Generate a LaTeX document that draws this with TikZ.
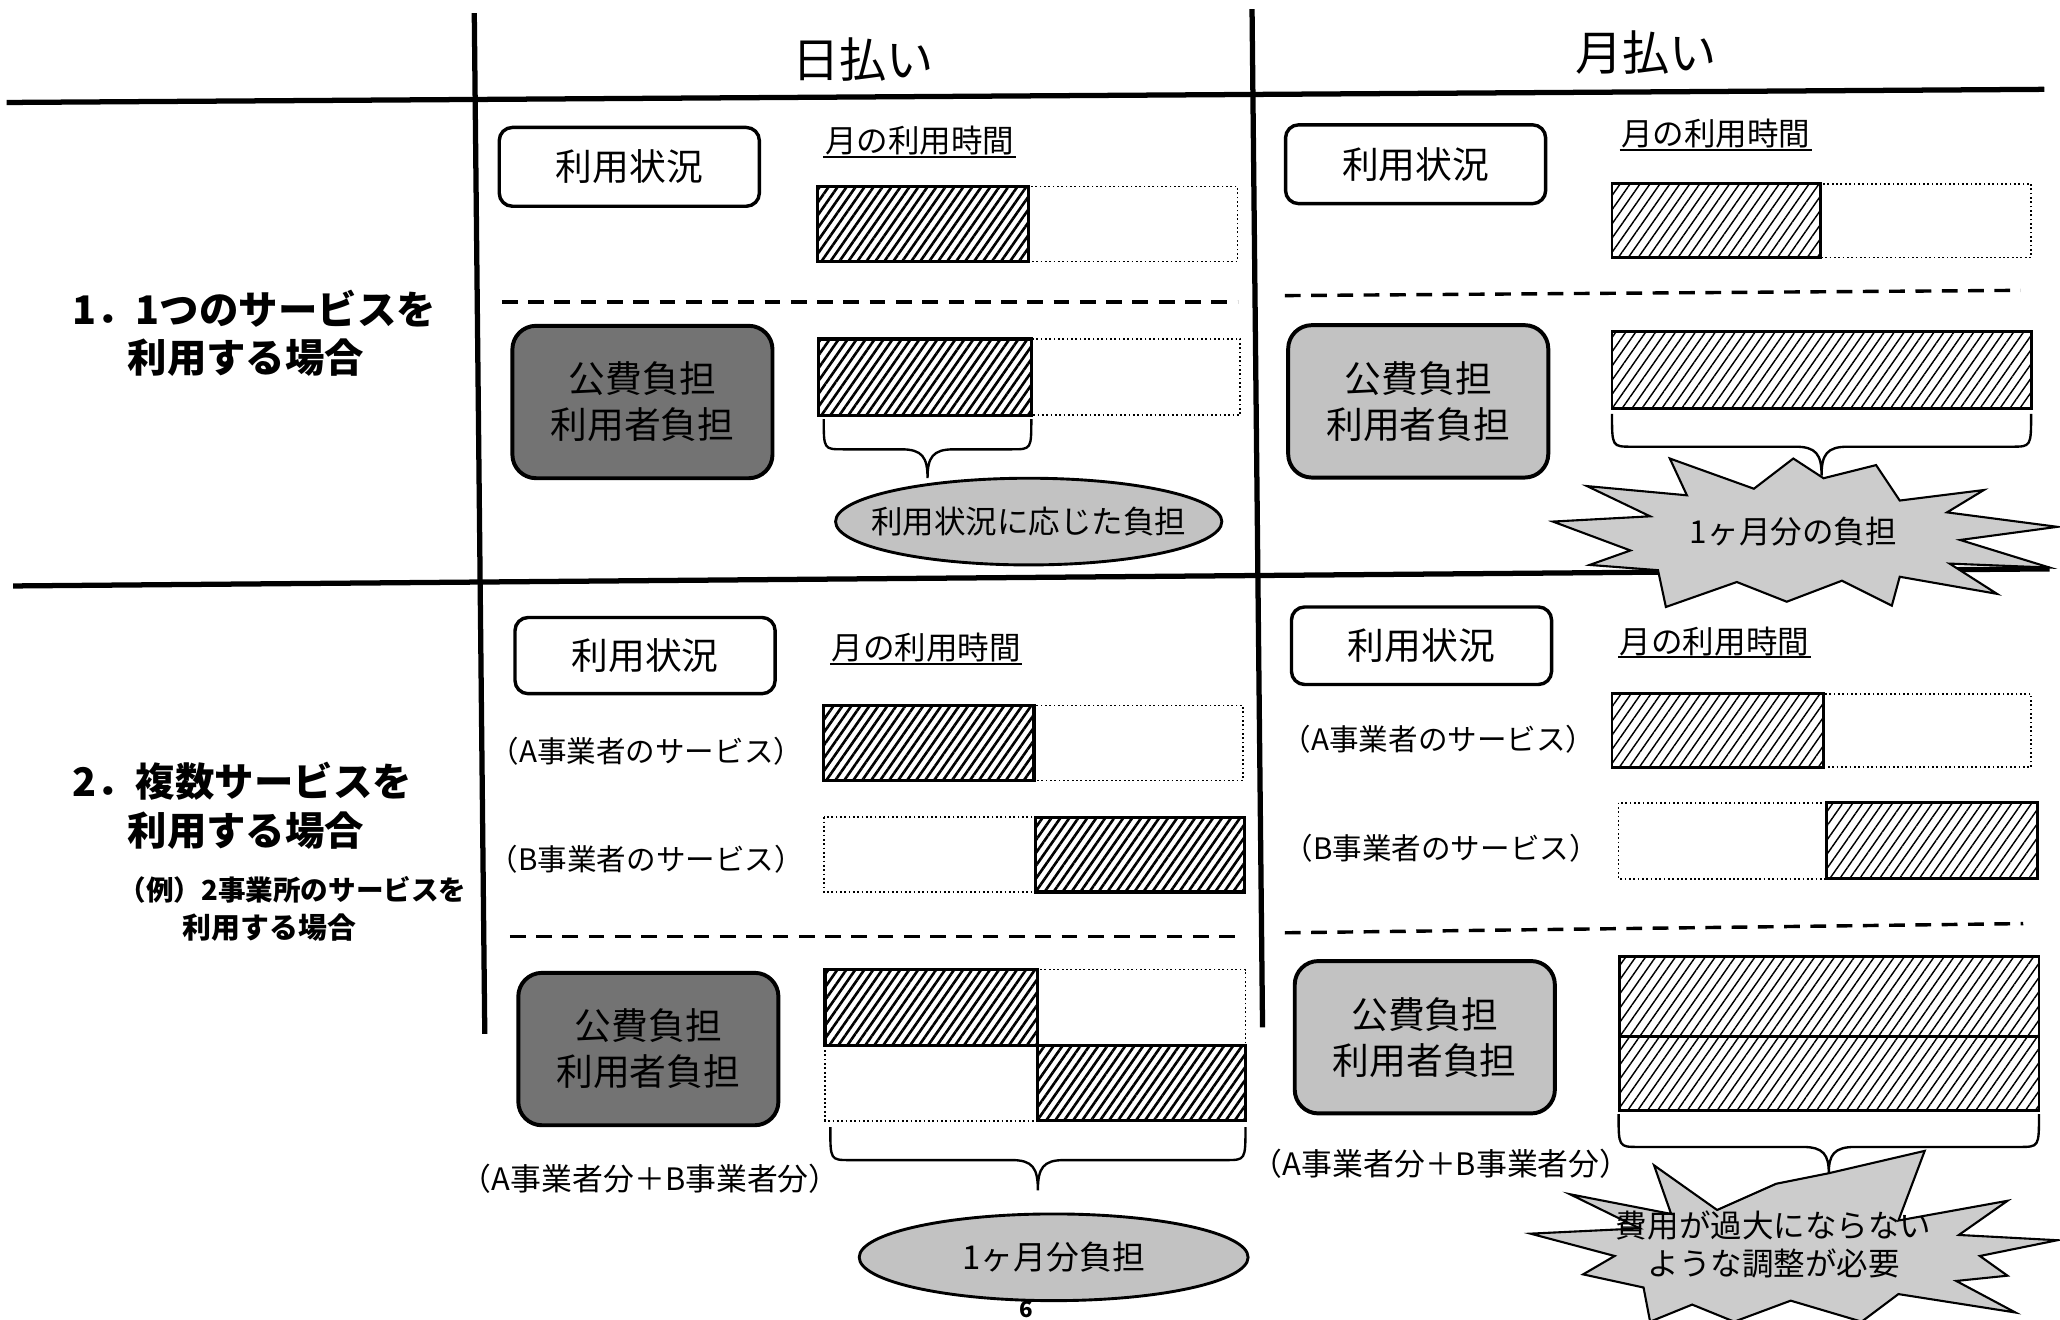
\documentclass[tikz,border=0pt]{standalone}
\usepackage{fontspec}
\setmainfont{Noto Sans CJK JP}
\usetikzlibrary{patterns.meta,shapes.geometric,calc}
\newcommand\fsz[1]{\fontsize{#1}{#1}\selectfont}
\newcommand\mybrace[5]{%
  \pgfmathsetmacro\bxm{(#1+#2)/2}%
  \draw[bracestyle] (#1,#3) .. controls (#1,#4) and (#1,#4) .. (#1+15,#4) -- (\bxm-20,#4)
    .. controls (\bxm-4,#4) and (\bxm,#4+6) .. (\bxm,#5)
    .. controls (\bxm,#4+6) and (\bxm+4,#4) .. (\bxm+20,#4) -- (#2-15,#4)
    .. controls (#2,#4) and (#2,#4) .. (#2,#3);}
\tikzset{
  gridline/.style={line width=4pt},
  sepline/.style={dash pattern=on 12pt off 8pt, line width=2.6pt},
  statbox/.style={draw, line width=2.6pt, rounded corners=10pt, fill=white,
    minimum width=198pt, minimum height=60pt, inner sep=0pt, font=\fsz{28}},
  burbox/.style={draw, line width=3pt, rounded corners=18pt, align=center,
    minimum width=198pt, minimum height=116pt, inner sep=0pt, font=\fontsize{28}{35}\selectfont},
  burdark/.style={burbox, fill=black!55},
  burlight/.style={burbox, fill=black!24},
  hatchA/.style={draw, line width=2.4pt, pattern={Lines[angle=55,distance=5.6pt,line width=2pt]}},
  hatchB/.style={draw, line width=2.2pt, pattern={Lines[angle=55,distance=6.2pt,line width=1.1pt]}},
  emptybar/.style={draw, dotted, line width=1.3pt},
  monthlbl/.style={font=\fsz{24}, inner sep=1pt},
  svclbl/.style={font=\fsz{22.5}, inner sep=0pt},
  sumlbl/.style={font=\fsz{23.5}, inner sep=0pt},
  header/.style={font=\fsz{36}, inner sep=0pt},
  rowlbl/.style={font=\bfseries\fsz{30}, inner sep=0pt, anchor=west},
  bracestyle/.style={line width=1.8pt},
  ovalfill/.style={draw, line width=2.2pt, fill=black!24},
  burst/.style={draw, line width=1.6pt, fill=black!20, line join=miter},
}
\begin{document}
\begin{tikzpicture}[x=1pt,y=-1pt]
\useasboundingbox (0,0) rectangle (1568,1004);

% ---- grid ----
\draw[gridline] (5,78) -- (1556,68);
\draw[gridline] (10,446) -- (1560,433);
\draw[gridline] (361,10) -- (369,787);
\draw[gridline] (953,7) -- (961,782);

% ---- headers ----
\node[header] (h1) at (657,45) {日払い};
\node[header] (h2) at (1253,40) {月払い};

% ---- row labels ----
\node[rowlbl] (r1a) at (55,235) {1．1つのサービスを};
\node[rowlbl] (r1b) at (97,272) {利用する場合};
\node[rowlbl] (r2a) at (55,595) {2．複数サービスを};
\node[rowlbl] (r2b) at (97,632) {利用する場合};
\node[font=\bfseries\fsz{21}, inner sep=0pt, anchor=west] (r2c) at (90,677) {（例）2事業所のサービスを};
\node[font=\bfseries\fsz{22}, inner sep=0pt] (r2d) at (205,706) {利用する場合};

% ================= Row 1, daily =================
\node[statbox] (s1L) at (479,127) {利用状況};
\node[monthlbl] (m1L) at (700,107) {月の利用時間};
\draw[line width=1.3pt] (m1L.south west) -- (m1L.south east);
\draw[emptybar] (783,142) rectangle (942,199);
\draw[hatchA] (622,142) rectangle (783,199);
\draw[sepline] (382,230) -- (942,230);
\node[burdark] (b1L) at (489,306) {公費負担\\利用者負担};
\draw[emptybar] (785,258) rectangle (944,316);
\draw[hatchA] (623,258) rectangle (785,316);
\coordinate (e1c) at (783,397);
\draw[ovalfill] (e1c) ellipse [x radius=147pt, y radius=33pt];
\node[font=\fsz{24}, inner sep=0pt] (e1) at (e1c) {利用状況に応じた負担};
\mybrace{627}{785}{319}{342}{364}

% ================= Row 1, monthly =================
\node[statbox] (s1R) at (1077.5,125) {利用状況};
\node[monthlbl] (m1R) at (1306,102) {月の利用時間};
\draw[line width=1.3pt] (m1R.south west) -- (m1R.south east);
\draw[emptybar] (1386,140) rectangle (1546,196);
\draw[hatchB] (1227,140) rectangle (1386,196);
\draw[sepline] (978,225) -- (1538,221);
\node[burlight] (b1R) at (1079.5,305.5) {公費負担\\利用者負担};
\draw[hatchB] (1227,252) rectangle (1546,311);
\draw[burst] (1182,397) -- (1256,393) -- (1208,370) -- (1284,377) -- (1271,349)
  -- (1335,372) -- (1365,349) -- (1388,364) -- (1428,354) -- (1446,381)
  -- (1510,373) -- (1482,390) -- (1566,401) -- (1492,411) -- (1560,432)
  -- (1484,429) -- (1520,452) -- (1446,439) -- (1440,461) -- (1402,442)
  -- (1360,458) -- (1322,443) -- (1268,462) -- (1262,434) -- (1210,430)
  -- (1241,419) -- cycle;
\node[font=\fsz{24}, inner sep=0pt] (t1R) at (1365,405) {1ヶ月分の負担};
\mybrace{1227}{1546}{315}{340}{362}

% ================= Row 2, daily =================
\node[statbox, minimum height=58pt] (s2L) at (491,499) {利用状況};
\node[monthlbl] (m2L) at (705,493) {月の利用時間};
\draw[line width=1.3pt] (m2L.south west) -- (m2L.south east);
\node[svclbl] (aL) at (492,572) {（A事業者のサービス）};
\draw[emptybar] (787,537) rectangle (946,594);
\draw[hatchA] (627,537) rectangle (787,594);
\node[svclbl] (bL) at (492,654) {（B事業者のサービス）};
\draw[emptybar] (627,622) rectangle (788,679);
\draw[hatchA] (788,622) rectangle (947,679);
\draw[sepline] (388,713) -- (946,713);
\node[burdark] (b2L) at (493.5,798.5) {公費負担\\利用者負担};
\draw[emptybar] (790,738) rectangle (948,796);
\draw[emptybar] (628,796) rectangle (790,853);
\draw[hatchA] (628,738) rectangle (790,796);
\draw[hatchA] (790,796) rectangle (948,853);
\node[sumlbl] (sumL) at (495,897) {（A事業者分＋B事業者分）};
\coordinate (e2c) at (802,957);
\draw[ovalfill] (e2c) ellipse [x radius=148pt, y radius=33pt];
\node[font=\fsz{25}, inner sep=0pt] (e2) at (e2c) {1ヶ月分負担};
\mybrace{632}{948}{858}{883}{906}
\node[font=\bfseries\fsz{17}, inner sep=0pt, anchor=south] (pg) at (781,1003) {6};

% ================= Row 2, monthly =================
\node[statbox, minimum height=59pt] (s2R) at (1082,491.5) {利用状況};
\node[monthlbl] (m2R) at (1305,488) {月の利用時間};
\draw[line width=1.3pt] (m2R.south west) -- (m2R.south east);
\node[svclbl] (aR) at (1095,563) {（A事業者のサービス）};
\draw[emptybar] (1388,528) rectangle (1546,584);
\draw[hatchB] (1227,528) rectangle (1388,584);
\node[svclbl] (bR) at (1097,646) {（B事業者のサービス）};
\draw[emptybar] (1232,611) rectangle (1390,669);
\draw[hatchB] (1390,611) rectangle (1551,669);
\draw[sepline] (978,710) -- (1540,703);
\node[burlight] (b2R) at (1084.5,789.5) {公費負担\\利用者負担};
\draw[hatchB] (1233,728) rectangle (1552,789);
\draw[hatchB] (1233,789) rectangle (1552,845);
\node[sumlbl] (sumR) at (1097,886) {（A事業者分＋B事業者分）};
\draw[burst] (1165,939) -- (1248,935) -- (1195,909) -- (1272,924) -- (1259,887)
  -- (1307,921) -- (1352,901) -- (1392,893) -- (1465,876) -- (1445,929)
  -- (1528,914) -- (1491,940) -- (1566,944) -- (1507,956) -- (1528,971)
  -- (1489,975) -- (1534,999) -- (1445,985) -- (1417,1006) -- (1363,990)
  -- (1320,1006) -- (1288,993) -- (1256,1006) -- (1251,980) -- (1205,970)
  -- (1229,956) -- cycle;
\node[font=\fontsize{24}{29}\selectfont, inner sep=0pt, align=center] (t2R) at (1350,947) {費用が過大にならない\\ような調整が必要};
\mybrace{1232}{1552}{848}{873}{893}
\end{tikzpicture}
\end{document}
